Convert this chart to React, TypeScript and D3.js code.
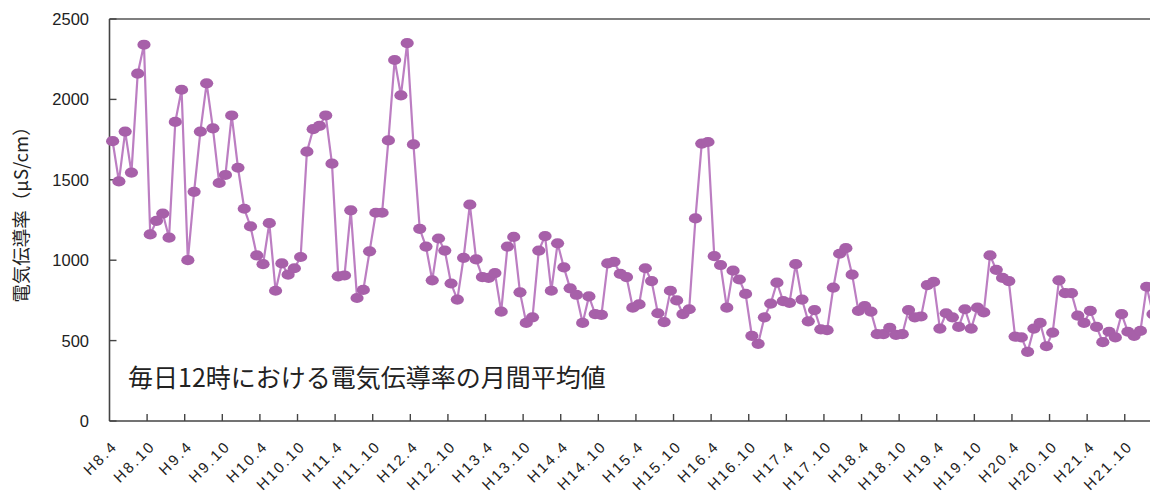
import React from "react";
import * as d3 from "d3";

const tickLabels = [
  "H8.4", "H8.10", "H9.4", "H9.10", "H10.4", "H10.10", "H11.4", "H11.10",
  "H12.4", "H12.10", "H13.4", "H13.10", "H14.4", "H14.10", "H15.4", "H15.10",
  "H16.4", "H16.10", "H17.4", "H17.10", "H18.4", "H18.10", "H19.4", "H19.10",
  "H20.4", "H20.10", "H21.4", "H21.10",
];

// monthly mean conductivity (μS/cm), H8.4 onward
const values = [
  1740, 1490, 1800, 1545, 2160, 2340, 1160, 1245, 1290, 1140, 1860, 2060,
  1000, 1425, 1800, 2100, 1820, 1480, 1530, 1900, 1575, 1320, 1210, 1030,
  975, 1230, 810, 980, 910, 950, 1020, 1675, 1815, 1835, 1900, 1600,
  900, 905, 1310, 765, 815, 1055, 1295, 1295, 1745, 2245, 2025, 2350,
  1720, 1195, 1085, 875, 1135, 1060, 855, 755, 1015, 1345, 1005, 895,
  890, 920, 680, 1085, 1145, 800, 610, 645, 1060, 1150, 810, 1105,
  955, 825, 785, 610, 775, 665, 660, 980, 990, 915, 895, 705,
  725, 950, 870, 670, 615, 810, 750, 665, 695, 1260, 1725, 1735,
  1025, 970, 705, 935, 880, 790, 530, 480, 645, 730, 860, 745,
  735, 975, 755, 620, 690, 570, 565, 830, 1040, 1075, 910, 685,
  715, 680, 540, 540, 580, 535, 540, 690, 645, 650, 845, 865,
  575, 670, 645, 585, 695, 575, 705, 675, 1030, 940, 890, 870,
  525, 520, 430, 575, 610, 465, 550, 875, 795, 795, 655, 610,
  685, 585, 490, 555, 520, 665, 555, 530, 560, 835, 665,
];

const yTicks = [0, 500, 1000, 1500, 2000, 2500];
const yTitle = "電気伝導率（μS/cm）";
const note = "毎日12時における電気伝導率の月間平均値";

const W = 1150;
const H = 493;
const left = 109.5;
const step = 6.267;
const top = 19;
const bottom = 421;

export default function App() {
  const idx = values.map((_, i) => i);
  const x = d3
    .scaleBand<number>()
    .domain(idx)
    .range([left, left + values.length * step])
    .paddingInner(0)
    .paddingOuter(0);
  const cx = (i: number) => (x(i) as number) + x.bandwidth() / 2;
  const y = d3.scaleLinear().domain([0, 2500]).range([bottom, top]);

  const line = d3
    .line<number>()
    .x((_, i) => cx(i))
    .y((d) => y(d));

  const tickBoundaries = d3.range(1, tickLabels.length + 1).map((k) => k * 6);

  const numFont = "'Liberation Sans', Arial, sans-serif";
  const jpFont = "'Noto Sans CJK JP', sans-serif";

  return (
    <div style={{ position: "fixed", left: 0, top: 0, width: W, height: H, overflow: "hidden", background: "#fff" }}>
      <svg width={W} height={H} style={{ display: "block" }}>
        <rect x={0} y={0} width={W} height={H} fill="#fff" />
        {/* frame */}
        <line x1={left} x2={W + 10} y1={top} y2={top} stroke="#555" strokeWidth={1.6} />
        <line x1={left} x2={left} y1={top} y2={bottom} stroke="#444" strokeWidth={1.6} />
        <line x1={left} x2={W + 10} y1={bottom} y2={bottom} stroke="#444" strokeWidth={1.6} />
        {/* y ticks */}
        {yTicks.map((t) => (
          <g key={t}>
            <line x1={left} x2={left + 7} y1={y(t)} y2={y(t)} stroke="#444" strokeWidth={1.4} />
            <text
              x={89}
              y={y(t)}
              dy="0.36em"
              textAnchor="end"
              fontFamily={numFont}
              fontSize={16.5}
              fill="#222"
            >
              {t}
            </text>
          </g>
        ))}
        {/* x ticks */}
        {tickBoundaries.map((b) => {
          const xx = left + b * step;
          return <line key={b} x1={xx} x2={xx} y1={bottom} y2={bottom - 7} stroke="#444" strokeWidth={1.4} />;
        })}
        {/* x labels */}
        {tickLabels.map((lab, k) => {
          const i = k * 6;
          const px = cx(i) + 6;
          const py = bottom + 26;
          return (
            <text
              key={lab}
              transform={`translate(${px},${py}) rotate(-45)`}
              textAnchor="end"
              fontFamily={numFont}
              fontSize={15}
              letterSpacing={2.3}
              fill="#222"
            >
              {lab}
            </text>
          );
        })}
        {/* y title */}
        <text
          transform={`translate(28,210) rotate(-90)`}
          textAnchor="middle"
          fontFamily={jpFont}
          fontSize={18.5}
          fill="#222"
        >
          {yTitle}
        </text>
        {/* note */}
        <text x={128} y={387} fontFamily={jpFont} fontSize={25} fill="#222">
          {note}
        </text>
        {/* series */}
        <path d={line(values) || ""} fill="none" stroke="#BC7EC2" strokeWidth={2.2} />
        {values.map((v, i) => (
          <ellipse key={i} cx={cx(i)} cy={y(v)} rx={6.6} ry={5.1} fill="#A760A9" />
        ))}
      </svg>
    </div>
  );
}
